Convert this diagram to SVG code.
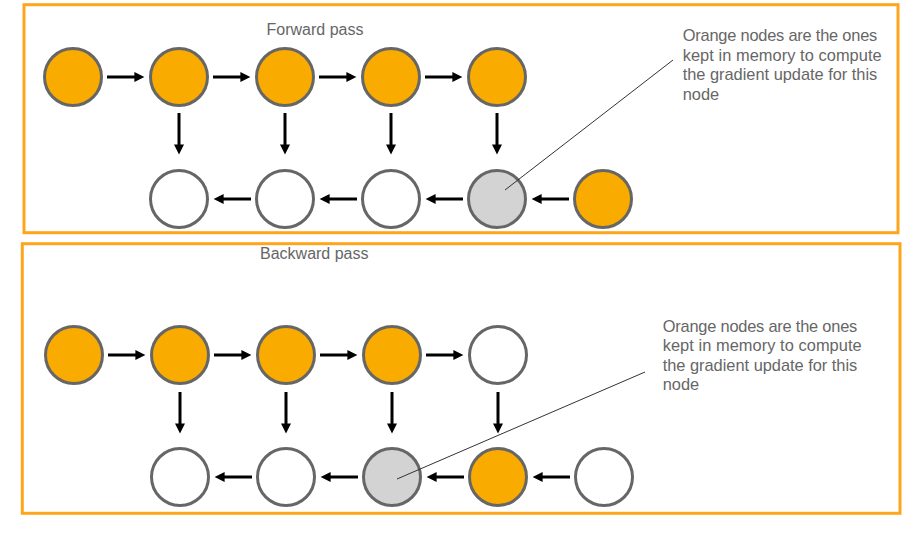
<svg xmlns="http://www.w3.org/2000/svg" width="918" height="536" viewBox="0 0 918 536">
<style>
.frame{fill:none;stroke:#FFA51C;stroke-width:3}
.n{stroke:#666666;stroke-width:3}
.o{fill:#F9AB00}
.w{fill:#FFFFFF}
.g{fill:#D3D3D3}
.a{stroke:#000;stroke-width:3;fill:none;marker-end:url(#ah)}
.lead{stroke:#333;stroke-width:1;fill:none}
.t{font-family:"Liberation Sans",Arial,Helvetica,sans-serif;fill:#666666}
.title{font-size:16px}
.note{font-size:16.4px}
</style>
<defs>
<marker id="ah" viewBox="0 0 10 10" refX="4" refY="5" markerWidth="11" markerHeight="10" markerUnits="userSpaceOnUse" orient="auto">
<path d="M0,0 L10,5 L0,10 z" fill="#000"/>
</marker>
</defs>
<rect class="frame" x="24" y="4.7" width="874" height="228"/>
<rect class="frame" x="22.3" y="243.7" width="877.7" height="269.6"/>
<text class="t title" x="266.5" y="35">Forward pass</text>
<text class="t title" x="260" y="259">Backward pass</text>
<g id="note-forward">
<text class="t note" x="682.7" y="41" textLength="194.6" lengthAdjust="spacing">Orange nodes are the ones</text>
<text class="t note" x="682.7" y="60.5" textLength="199" lengthAdjust="spacing">kept in memory to compute</text>
<text class="t note" x="682.7" y="80" textLength="194.6" lengthAdjust="spacing">the gradient update for this</text>
<text class="t note" x="682.7" y="99.5">node</text>
</g>
<g id="note-backward">
<text class="t note" x="662.7" y="331.7" textLength="194.6" lengthAdjust="spacing">Orange nodes are the ones</text>
<text class="t note" x="662.7" y="351.2" textLength="199" lengthAdjust="spacing">kept in memory to compute</text>
<text class="t note" x="662.7" y="370.7" textLength="194.6" lengthAdjust="spacing">the gradient update for this</text>
<text class="t note" x="662.7" y="390.2">node</text>
</g>
<g id="f-top-1"><circle class="n o" cx="73" cy="77" r="28.5"/></g>
<g id="f-top-2"><circle class="n o" cx="179" cy="77" r="28.5"/></g>
<g id="f-top-3"><circle class="n o" cx="285" cy="77" r="28.5"/></g>
<g id="f-top-4"><circle class="n o" cx="391" cy="77" r="28.5"/></g>
<g id="f-top-5"><circle class="n o" cx="497" cy="77" r="28.5"/></g>
<g id="f-bot-1"><circle class="n w" cx="179" cy="199" r="28.5"/></g>
<g id="f-bot-2"><circle class="n w" cx="285" cy="199" r="28.5"/></g>
<g id="f-bot-3"><circle class="n w" cx="391" cy="199" r="28.5"/></g>
<g id="f-bot-4"><circle class="n g" cx="497" cy="199" r="28.5"/></g>
<g id="f-bot-5"><circle class="n o" cx="603" cy="199" r="28.5"/></g>
<g id="b-top-1"><circle class="n o" cx="74" cy="355" r="28.5"/></g>
<g id="b-top-2"><circle class="n o" cx="180" cy="355" r="28.5"/></g>
<g id="b-top-3"><circle class="n o" cx="286" cy="355" r="28.5"/></g>
<g id="b-top-4"><circle class="n o" cx="392" cy="355" r="28.5"/></g>
<g id="b-top-5"><circle class="n w" cx="498" cy="355" r="28.5"/></g>
<g id="b-bot-1"><circle class="n w" cx="180" cy="477" r="28.5"/></g>
<g id="b-bot-2"><circle class="n w" cx="286" cy="477" r="28.5"/></g>
<g id="b-bot-3"><circle class="n g" cx="392" cy="477" r="28.5"/></g>
<g id="b-bot-4"><circle class="n o" cx="498" cy="477" r="28.5"/></g>
<g id="b-bot-5"><circle class="n w" cx="604" cy="477" r="28.5"/></g>
<g id="connectors">
<line class="a" x1="107" y1="77" x2="138.4" y2="77"/>
<line class="a" x1="213" y1="77" x2="244.4" y2="77"/>
<line class="a" x1="319" y1="77" x2="350.4" y2="77"/>
<line class="a" x1="425" y1="77" x2="456.4" y2="77"/>
<line class="a" x1="179" y1="113" x2="179" y2="148.4"/>
<line class="a" x1="285" y1="113" x2="285" y2="148.4"/>
<line class="a" x1="391" y1="113" x2="391" y2="148.4"/>
<line class="a" x1="497" y1="113" x2="497" y2="148.4"/>
<line class="a" x1="569" y1="199" x2="537.6" y2="199"/>
<line class="a" x1="463" y1="199" x2="431.6" y2="199"/>
<line class="a" x1="357" y1="199" x2="325.6" y2="199"/>
<line class="a" x1="251" y1="199" x2="219.6" y2="199"/>
<line class="a" x1="108" y1="355" x2="139.4" y2="355"/>
<line class="a" x1="214" y1="355" x2="245.4" y2="355"/>
<line class="a" x1="320" y1="355" x2="351.4" y2="355"/>
<line class="a" x1="426" y1="355" x2="457.4" y2="355"/>
<line class="a" x1="180" y1="392" x2="180" y2="427.4"/>
<line class="a" x1="286" y1="392" x2="286" y2="427.4"/>
<line class="a" x1="392" y1="392" x2="392" y2="427.4"/>
<line class="a" x1="498" y1="392" x2="498" y2="427.4"/>
<line class="a" x1="570" y1="477" x2="538.6" y2="477"/>
<line class="a" x1="464" y1="477" x2="432.6" y2="477"/>
<line class="a" x1="358" y1="477" x2="326.6" y2="477"/>
<line class="a" x1="252" y1="477" x2="220.6" y2="477"/>
<line class="lead" x1="673" y1="60" x2="505" y2="190"/>
<line class="lead" x1="645" y1="372" x2="397" y2="479"/>
</g>
</svg>
